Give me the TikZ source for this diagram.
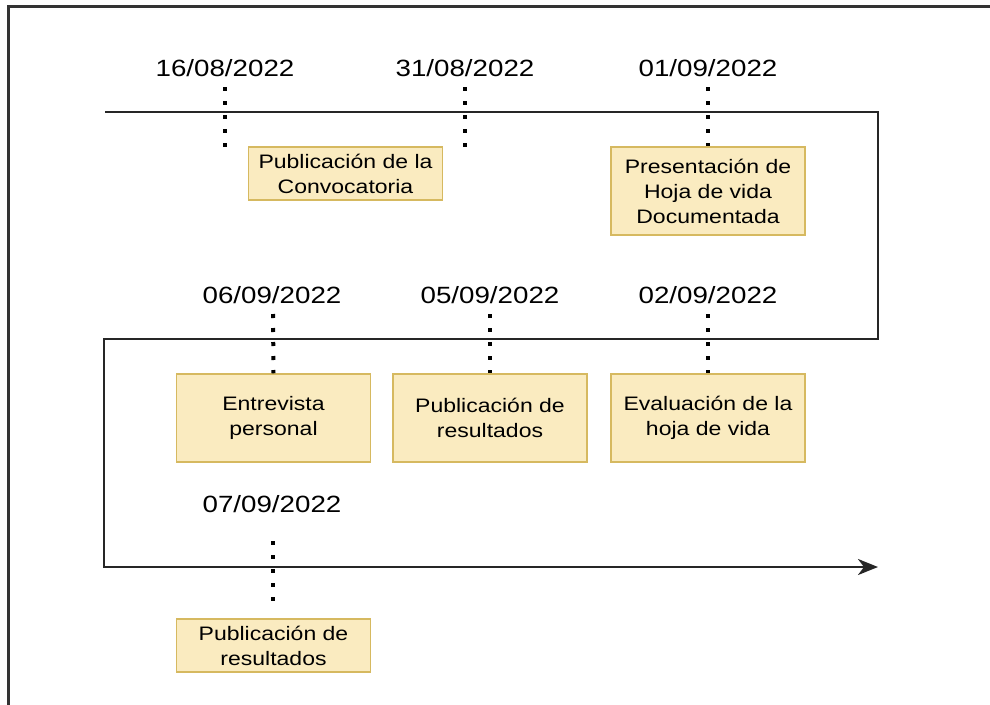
\documentclass[tikz,border=0pt]{standalone}
\usepackage{fontspec}
\setmainfont{Liberation Sans}[FakeStretch=1.18]
\usetikzlibrary{arrows.meta}
\definecolor{boxfill}{HTML}{FAEBC0}
\definecolor{boxline}{HTML}{D6B960}
\tikzset{
  fecha/.style={font=\fontsize{23.5}{28}\selectfont},
  etapa/.style={draw=boxline,fill=boxfill,line width=1.5pt,align=center,
    minimum width=194pt,font=\fontsize{19.5}{25}\selectfont,inner sep=0pt},
  puntos/.style={line width=4pt,dash pattern=on 4pt off 10pt},
  linea/.style={line width=2.6pt,draw=black!85}
}
\begin{document}
\begin{tikzpicture}[x=1pt,y=-1pt]
\useasboundingbox (0,0) rectangle (990,704);
% marco
\draw[line width=3pt,draw=black!80] (8,710) -- (8,6) -- (1000,6);
% fechas
\node[fecha] (f1) at (225,68) {16/08/2022};
\node[fecha] (f2) at (465,68) {31/08/2022};
\node[fecha] (f3) at (708,68) {01/09/2022};
\node[fecha] (f4) at (272,295) {06/09/2022};
\node[fecha] (f5) at (490,295) {05/09/2022};
\node[fecha] (f6) at (708,295) {02/09/2022};
\node[fecha] (f7) at (272,504) {07/09/2022};
% etapas
\node[etapa,minimum height=53pt] (e1) at (345.5,173.5) {Publicación de la\\Convocatoria};
\node[etapa,minimum height=88pt] (e2) at (708,191) {Presentación de\\Hoja de vida\\Documentada};
\node[etapa,minimum height=88pt] (e3) at (708,418) {Evaluación de la\\hoja de vida};
\node[etapa,minimum height=88pt] (e4) at (490,418) {Publicación de\\resultados};
\node[etapa,minimum height=88pt] (e5) at (273.5,418) {Entrevista\\personal};
\node[etapa,minimum height=53pt] (e6) at (273.5,645.5) {Publicación de\\resultados};
% linea de tiempo
\coordinate (t0) at (105,112);
\coordinate (t1) at (878,112);
\coordinate (t2) at (878,339);
\coordinate (t3) at (104,339);
\coordinate (t4) at (104,567);
\coordinate (t5) at (878,567);
\draw[linea,-{Stealth[length=20pt,width=16pt,inset=6pt]}] (t0) -- (t1) -- (t2) -- (t3) -- (t4) -- (t5);
% puntos
\coordinate (p1) at (225,149);
\coordinate (p2) at (465,149);
\draw[puntos] (225,87) -- (p1);
\draw[puntos] (465,87) -- (p2);
\draw[puntos] (708,87) -- (e2.north);
\draw[puntos] (708,314) -- (e3.north);
\draw[puntos] (490,314) -- (e4.north);
\draw[puntos] (273,314) -- (e5.north);
\draw[puntos] (273,541) -- (273,603);
\end{tikzpicture}
\end{document}
